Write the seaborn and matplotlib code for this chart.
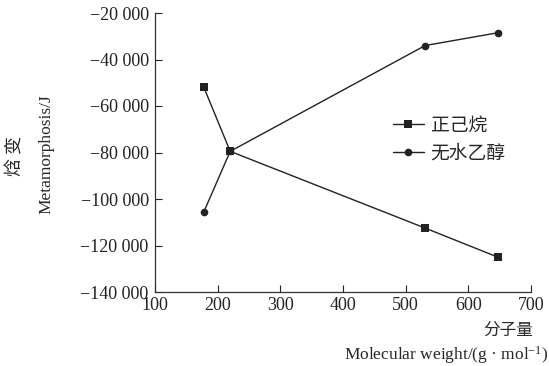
import matplotlib
matplotlib.use("Agg")
from matplotlib import pyplot as plt
from matplotlib.ticker import FuncFormatter
import seaborn as sns
import pandas as pd

# data
mol_weight = [178, 220, 531, 647]
hexane = [-52000, -79500, -112500, -125000]
ethanol = [-105500, -79500, -34000, -28500]
series_names = ["正己烷", "无水乙醇"]

x_ticks = [100, 200, 300, 400, 500, 600, 700]
y_ticks = [-140000, -120000, -100000, -80000, -60000, -40000, -20000]

sns.set_style("ticks")
plt.rcParams["font.family"] = ["Liberation Serif", "Noto Sans CJK SC"]
plt.rcParams["axes.unicode_minus"] = True
plt.rcParams["mathtext.fontset"] = "custom"
plt.rcParams["mathtext.rm"] = "Liberation Serif"
plt.rcParams["mathtext.it"] = "Liberation Serif:italic"

df = pd.DataFrame({
    "mw": mol_weight * 2,
    "dH": hexane + ethanol,
    "series": [series_names[0]] * len(mol_weight) + [series_names[1]] * len(mol_weight),
})

W, H = 549, 366
fig = plt.figure(figsize=(W / 100, H / 100), dpi=100)
ax = fig.add_axes([155 / W, 1 - 292 / H, (531 - 155) / W, (292 - 13) / H])

sns.lineplot(
    data=df, x="mw", y="dH", hue="series", style="series",
    markers={series_names[0]: "s", series_names[1]: "o"}, dashes=False,
    palette={series_names[0]: "#222222", series_names[1]: "#222222"},
    linewidth=1.0, markersize=5.5, markeredgewidth=0, ax=ax,
)

ax.set_xlim(100, 700)
ax.set_ylim(-140000, -20000)
ax.set_xticks(x_ticks)
ax.set_yticks(y_ticks)


def fmt(v, pos):
    s = f"{abs(int(v)):,}".replace(",", " ")
    return ("\u2212" if v < 0 else "") + s


ax.yaxis.set_major_formatter(FuncFormatter(fmt))
ax.tick_params(direction="in", length=5, width=0.8, labelsize=13, colors="#222222")
ax.tick_params(axis="y", pad=4.5)
ax.tick_params(axis="x", pad=3.5)
for side in ["top", "right"]:
    ax.spines[side].set_visible(False)
for side in ["left", "bottom"]:
    ax.spines[side].set_linewidth(0.9)
    ax.spines[side].set_color("#333333")

ax.set_xlabel("")
ax.set_ylabel("")
fig.text(46 / W, 1 - 154 / H, "Metamorphosis/J", rotation=90, ha="center", va="center",
         fontsize=12.5)
fig.text(16 / W, 1 - 156 / H, "焓 变", rotation=90, ha="center", va="center",
         fontsize=13, family=["Noto Sans CJK SC"])
fig.text(533 / W, 1 - 330 / H, "分子量", ha="right", va="center",
         fontsize=12, family=["Noto Sans CJK SC"])
fig.text(548 / W, 1 - 355 / H, "Molecular weight/(g \u00b7 mol$^{\\mathrm{-1}}$)", ha="right",
         va="center", fontsize=12.5)

ax.legend(loc="center left", bbox_to_anchor=((393 - 155) / 376, (292 - 139) / 279),
          frameon=False, borderpad=0, borderaxespad=0, handlelength=1.65,
          handletextpad=0.35, labelspacing=0.35,
          prop={"family": ["Noto Sans CJK SC"], "size": 13.5})

fig.savefig("out.png", dpi=100)
